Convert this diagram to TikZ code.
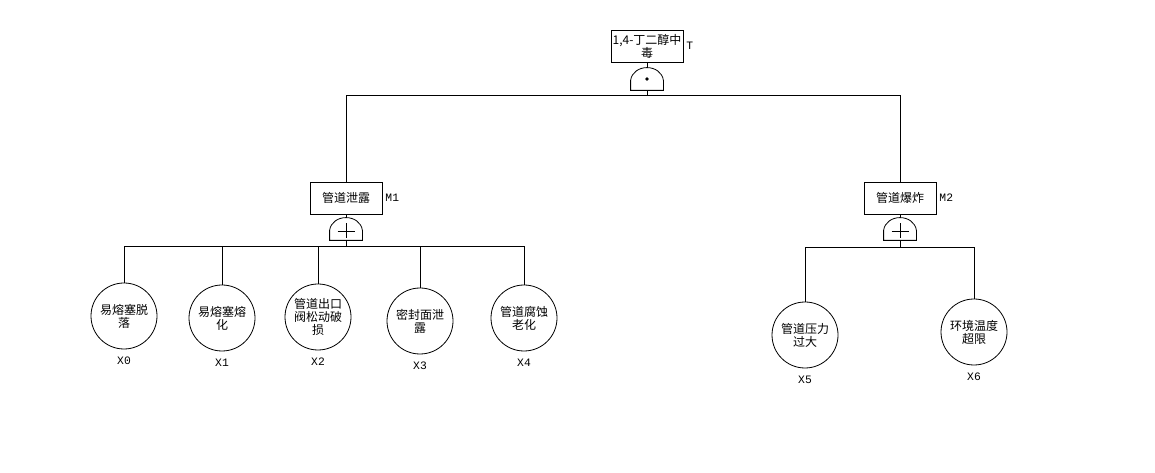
\documentclass[tikz,border=0pt]{standalone}
\usepackage{fontspec}
\setmainfont{Noto Sans CJK SC}
\newfontfamily\codfont{Liberation Mono}

\tikzset{
  evento/.style={draw, rectangle, minimum width=54pt, minimum height=24pt,
    inner sep=1pt, align=center, font=\fontsize{9}{9.75}\selectfont},
  basico/.style={draw, circle, minimum size=49.5pt, inner sep=0pt,
    align=center, font=\fontsize{9}{9.75}\selectfont},
  codigo/.style={font=\codfont\fontsize{8.5}{9}\selectfont, inner sep=1pt},
  puerta/.style={minimum width=24pt, minimum height=16.5pt, inner sep=0pt},
}

% contorno de una puerta
\newcommand\contornopuerta[1]{%
  \draw (#1.south west) -- ++(0,-10) .. controls +(1,-8) and +(-8,0) .. (#1.north)
    .. controls +(8,0) and +(-1,-8) .. ([yshift=7.5pt]#1.south east)
    -- (#1.south east) -- cycle;}

\begin{document}
\begin{tikzpicture}[x=0.75pt, y=-0.75pt, line width=0.6pt]
    \useasboundingbox (0,0) rectangle (1155,473);

    % Evento superior
    \node[evento, label={[codigo, label distance=1pt]right:T}] (T) at (647,46) {1,4-丁二醇中\\毒};
    \node[puerta] (gT) at (647,79) {};
    \contornopuerta{gT}
    \fill (gT.center) circle (1.4pt);
    \coordinate (bT) at (647,95);

    % Eventos intermedios
    \node[evento, label={[codigo, label distance=1pt]right:M1}] (M1) at (346,198) {管道泄露};
    \node[evento, label={[codigo, label distance=1pt]right:M2}] (M2) at (900,198) {管道爆炸};
    \node[puerta] (gM1) at (346,229) {};
    \node[puerta] (gM2) at (900,229) {};
    \foreach \g in {gM1,gM2} {
        \contornopuerta{\g}
        \draw ([yshift=-1.5pt]\g.center) +(-8.5,0) -- +(8.5,0) +(0,-7.5) -- +(0,7.5);
    }
    \coordinate (bM1) at (346,246);
    \coordinate (bM2) at (900,247);

    % Eventos basicos
    \node[basico, label={[codigo, label distance=4.5pt]below:X0}] (X0) at (124,316) {易熔塞脱\\落};
    \node[basico, label={[codigo, label distance=4.5pt]below:X1}] (X1) at (222,318) {易熔塞熔\\化};
    \node[basico, label={[codigo, label distance=4.5pt]below:X2}] (X2) at (318,317) {管道出口\\阀松动破\\损};
    \node[basico, label={[codigo, label distance=4.5pt]below:X3}] (X3) at (420,321) {密封面泄\\露};
    \node[basico, label={[codigo, label distance=4.5pt]below:X4}] (X4) at (524,318) {管道腐蚀\\老化};
    \node[basico, label={[codigo, label distance=4.5pt]below:X5}] (X5) at (805,335) {管道压力\\过大};
    \node[basico, label={[codigo, label distance=4.5pt]below:X6}] (X6) at (974,332) {环境温度\\超限};

    % Conexiones
    \draw (T.south) -- (gT.north);
    \draw (gT.south) -- (bT);
    \draw (bT) -| (M1.north);
    \draw (bT) -| (M2.north);
    \draw (M1.south) -- (gM1.north);
    \draw (M2.south) -- (gM2.north);
    \draw (gM1.south) -- (bM1);
    \draw (gM2.south) -- (bM2);
    \foreach \x in {X0,X1,X2,X3,X4}
        \draw (bM1) -| (\x.north);
    \foreach \x in {X5,X6}
        \draw (bM2) -| (\x.north);
\end{tikzpicture}
\end{document}
